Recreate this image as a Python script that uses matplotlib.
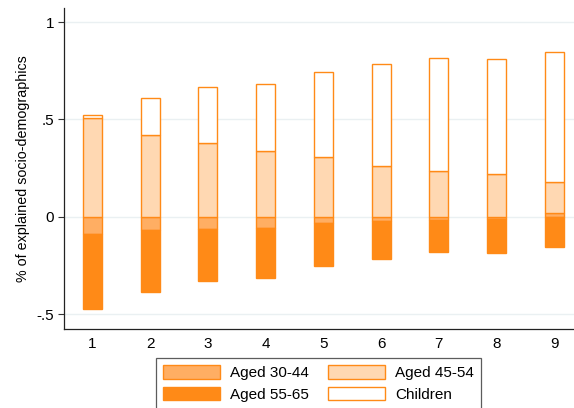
import matplotlib
matplotlib.use("Agg")
import matplotlib.pyplot as plt
import numpy as np

plt.rcParams['font.family'] = ['Liberation Sans', 'DejaVu Sans']

categories = [1, 2, 3, 4, 5, 6, 7, 8, 9]
aged_30_44 = [-0.086, -0.069, -0.060, -0.055, -0.030, -0.020, -0.016, -0.011, 0.020]
aged_45_54 = [0.506, 0.422, 0.381, 0.340, 0.306, 0.263, 0.237, 0.220, 0.161]
aged_55_65 = [-0.388, -0.316, -0.270, -0.257, -0.223, -0.198, -0.166, -0.176, -0.152]
children = [0.015, 0.190, 0.285, 0.342, 0.437, 0.521, 0.577, 0.590, 0.664]
yticks = [-0.5, 0, 0.5, 1]
ytick_labels = ['-.5', '0', '.5', '1']

edge = '#ff8a17'
series = [
    ('Aged 30-44', aged_30_44, '#ffae63'),
    ('Aged 45-54', aged_45_54, '#ffd8b2'),
    ('Aged 55-65', aged_55_65, '#ff8a17'),
    ('Children', children, '#ffffff'),
]

fig = plt.figure(figsize=(5.74, 4.08), dpi=100)
ax = fig.add_axes([64/574, 1-329/408, 1-64/574, (329-8)/408])

x = np.array(categories, dtype=float)
pos = np.zeros(len(x))
neg = np.zeros(len(x))
handles = {}
for name, vals, col in series:
    v = np.array(vals)
    bottom = np.where(v >= 0, pos, neg)
    b = ax.bar(x, v, bottom=bottom, width=0.33, color=col, edgecolor=edge,
               linewidth=1.0, label=name, zorder=3)
    handles[name] = b
    pos = np.where(v >= 0, pos + v, pos)
    neg = np.where(v < 0, neg + v, neg)

ax.set_xlim(0.51, 9.34)
ax.set_ylim(-0.575, 1.072)
ax.set_xticks(categories)
ax.set_xticklabels([str(c) for c in categories], fontsize=11)
ax.tick_params(axis='x', length=0, pad=6)
ax.set_yticks(yticks)
ax.set_yticklabels(ytick_labels, fontsize=11)
ax.tick_params(axis='y', length=4, width=0.8, color='#333333', pad=3)
ax.grid(axis='y', color='#eaf0f2', linewidth=1.0, zorder=0)
ax.set_axisbelow(True)
for s in ['top', 'right']:
    ax.spines[s].set_visible(False)
ax.spines['left'].set_color('#222222')
ax.spines['bottom'].set_color('#222222')
ax.spines['left'].set_linewidth(0.9)
ax.spines['bottom'].set_linewidth(0.9)
ax.set_ylabel('% of explained socio-demographics', fontsize=10.3, labelpad=5)

order = ['Aged 30-44', 'Aged 55-65', 'Aged 45-54', 'Children']
leg = fig.legend([handles[n] for n in order], order, ncol=2,
                 loc='upper center', bbox_to_anchor=(318.5/574, 1-358/408),
                 borderaxespad=0.0,
                 fontsize=11, frameon=True, fancybox=False, edgecolor='#333333',
                 handlelength=3.7, handleheight=1.0, handletextpad=0.65,
                 columnspacing=1.3, labelspacing=0.45, borderpad=0.45)
leg.get_frame().set_linewidth(0.9)

fig.savefig('out.png', dpi=100)
